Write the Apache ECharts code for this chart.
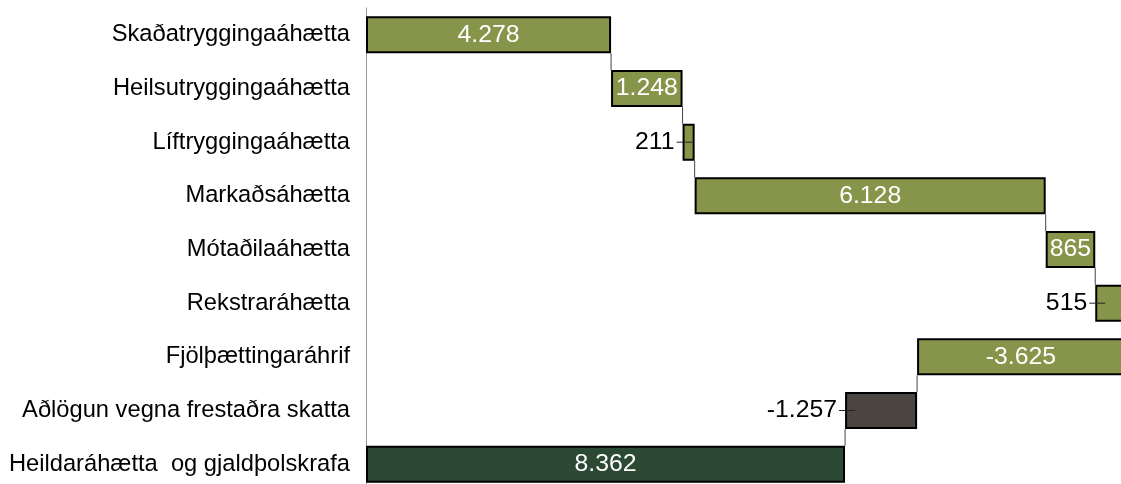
<!DOCTYPE html>
<html>
<head>
<meta charset="utf-8">
<script src="https://cdn.jsdelivr.net/npm/echarts@6/dist/echarts.min.js"></script>
<style>html,body{margin:0;padding:0;background:#fff}#c{width:1121px;height:484px}</style>
</head>
<body>
<div id="c"></div>
<script>
// ---- data ----
const categories = ['Skaðatryggingaáhætta','Heilsutryggingaáhætta','Líftryggingaáhætta','Markaðsáhætta','Mótaðilaáhætta','Rekstraráhætta','Fjölþættingaráhrif','Aðlögun vegna frestaðra skatta','Heildaráhætta  og gjaldþolskrafa'];
const values = [4278, 1248, 211, 6128, 865, 515, -3625, -1257, 8362];
const isTotal = [false, false, false, false, false, false, false, false, true];

// ---- styles ----
const OLIVE = '#87954a', GREY = '#4a4541', DARKGREEN = '#2c4a33';
const barColors = [OLIVE, OLIVE, OLIVE, OLIVE, OLIVE, OLIVE, OLIVE, GREY, DARKGREEN];
const FONT = 'Liberation Sans, Arial, sans-serif';
const CAT_FS = 23.7, VAL_FS = 24.8;
const X_MAX = 14000, GRID_LEFT = 366, GRID_W = 802, BAR_W = 37;

// derived waterfall geometry
const bases = [], mags = [], ends = [];
let run = 0;
values.forEach((v, i) => {
  if (isTotal[i]) { bases.push(0); mags.push(Math.abs(v)); ends.push(v); return; }
  if (v >= 0) { bases.push(run); run += v; } else { run += v; bases.push(run); }
  mags.push(Math.abs(v)); ends.push(run);
});
const fmt = v => (v < 0 ? '-' : '') + Math.abs(v).toString().replace(/\B(?=(\d{3})+(?!\d))/g, '.');

const ctx = document.createElement('canvas').getContext('2d');
ctx.font = VAL_FS + 'px ' + FONT;
const pxPerUnit = GRID_W / X_MAX;

const barData = values.map((v, i) => {
  const txt = fmt(v);
  const inside = ctx.measureText(txt).width + 6 < Math.abs(v) * pxPerUnit;
  return {
    value: mags[i],
    itemStyle: { color: barColors[i] },
    label: inside ? {
      show: true, position: 'inside', color: '#fff', formatter: txt
    } : {
      show: true, position: 'left', distance: -10, color: '#000',
      formatter: '{t|' + txt + '}{g|}{l|}',
      rich: {
        t: { fontSize: VAL_FS, fontFamily: FONT, color: '#000' },
        g: { width: 2, height: 1 },
        l: { width: 16, height: 1, backgroundColor: '#222', verticalAlign: 'middle' }
      }
    }
  };
});

const connectors = [];
for (let i = 0; i < values.length - 1; i++) connectors.push([ends[i], i]);

const chart = echarts.init(document.getElementById('c'), null, { renderer: 'canvas' });
chart.setOption({
  animation: false,
  textStyle: { fontFamily: FONT },
  grid: { left: GRID_LEFT, top: 8, width: GRID_W, height: 483, outerBoundsMode: 'none', containLabel: false },
  xAxis: { type: 'value', min: 0, max: X_MAX, show: false },
  yAxis: {
    type: 'category', data: categories, inverse: true,
    axisLine: { show: true, lineStyle: { color: '#9a9a9a', width: 1 } },
    axisTick: { show: false },
    axisLabel: { color: '#000', fontSize: CAT_FS, fontFamily: FONT, margin: 16 }
  },
  series: [
    { type: 'bar', stack: 'w', data: bases, barWidth: BAR_W, itemStyle: { color: 'transparent' }, silent: true },
    { type: 'bar', stack: 'w', data: barData, barWidth: BAR_W,
      itemStyle: { borderColor: '#000', borderWidth: 2 },
      label: { fontSize: VAL_FS, fontFamily: FONT } },
    { type: 'custom', data: connectors, silent: true, z: 1,
      renderItem: (params, api) => {
        const p1 = api.coord([api.value(0), api.value(1)]);
        const p2 = api.coord([api.value(0), api.value(1) + 1]);
        return { type: 'line', shape: { x1: p1[0], y1: p1[1] + BAR_W / 2, x2: p2[0], y2: p2[1] - BAR_W / 2 },
          style: { stroke: '#444', lineWidth: 1 } };
      } }
  ]
});
</script>
</body>
</html>
